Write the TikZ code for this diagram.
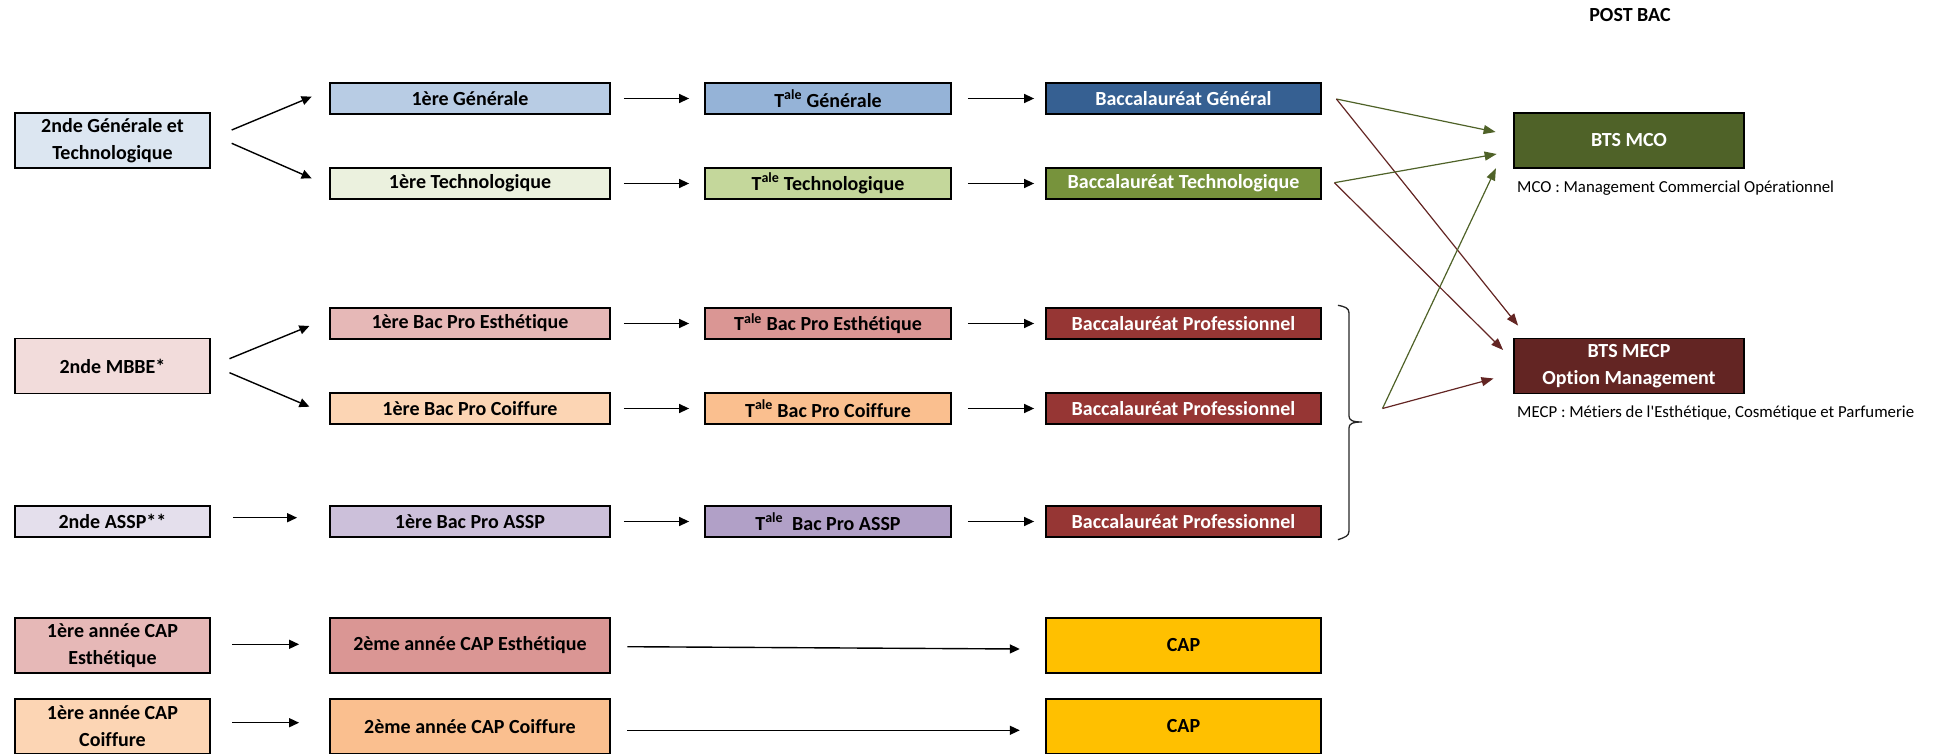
\documentclass[tikz,border=0pt]{standalone}
\usepackage{fontspec}
\setmainfont{Carlito}[Ligatures={CommonOff,TeXOff}]
\usetikzlibrary{arrows.meta}
\definecolor{cGa}{HTML}{DCE6F1}
\definecolor{cGb}{HTML}{B8CCE4}
\definecolor{cGc}{HTML}{95B3D7}
\definecolor{cGd}{HTML}{366092}
\definecolor{cTa}{HTML}{EBF1DE}
\definecolor{cTc}{HTML}{C4D79B}
\definecolor{cTd}{HTML}{77933C}
\definecolor{cMCO}{HTML}{4F6228}
\definecolor{cMECP}{HTML}{632523}
\definecolor{cEa}{HTML}{F2DCDB}
\definecolor{cEb}{HTML}{E6B8B7}
\definecolor{cEc}{HTML}{DA9694}
\definecolor{cPro}{HTML}{963634}
\definecolor{cCb}{HTML}{FCD5B4}
\definecolor{cCc}{HTML}{FABF8F}
\definecolor{cAa}{HTML}{E4DFEC}
\definecolor{cAb}{HTML}{CCC0DA}
\definecolor{cAc}{HTML}{B1A0C7}
\definecolor{cCAP}{HTML}{FFC000}
\begin{document}
\begin{tikzpicture}[x=1pt,y=-1pt,
  box/.style={draw=black, line width=1.8pt, inner sep=0pt, align=center,
    font=\bfseries\fontsize{20}{27}\selectfont},
  wA/.style={minimum width=195pt},
  wB/.style={minimum width=280pt},
  wC/.style={minimum width=246pt},
  wD/.style={minimum width=275pt},
  wE/.style={minimum width=230pt},
  hS/.style={minimum height=31pt},
  hL/.style={minimum height=55pt},
  wtxt/.style={text=white},
  blk/.style={line width=1.4pt, -{Triangle[length=10pt,width=9pt]}},
  grn/.style={draw=cMCO, line width=1.2pt, -{Triangle[length=12pt,width=9pt]}},
  brn/.style={draw=cMECP, line width=1.2pt, -{Triangle[length=12pt,width=9pt]}},
  note/.style={anchor=west, inner sep=0pt, font=\fontsize{16.8}{20}\selectfont},
  bracestyle/.style={draw=black!85, line width=1.3pt}
]
\useasboundingbox (0,0) rectangle (1939,754);

% POST BAC title
\node[font=\bfseries\fontsize{20}{24}\selectfont] (post) at (1630,15) {POST BAC};

% General / technological track
\node[box,wA,hL,fill=cGa] (g2) at (112.5,140.5) {2nde Générale et\\Technologique};
\node[box,wB,hS,fill=cGb] (g1) at (470,98.5) {1ère Générale};
\node[box,wB,hS,fill=cTa] (t1) at (470,183.5) {1ère Technologique};
\node[box,wC,hS,fill=cGc] (g3) at (828,98.5) {T\textsuperscript{ale} Générale};
\node[box,wC,hS,fill=cTc] (t3) at (828,183.5) {T\textsuperscript{ale} Technologique};
\node[box,wD,hS,fill=cGd,wtxt] (g4) at (1183.5,98.5) {Baccalauréat Général};
\node[box,wD,hS,fill=cTd,wtxt] (t4) at (1183.5,183.5) {Baccalauréat Technologique};

% BTS
\node[box,wE,hL,fill=cMCO,wtxt] (mco) at (1629,140.5) {BTS MCO};
\node[box,wE,hL,fill=cMECP,wtxt] (mecp) at (1629,366) {BTS MECP\\Option Management};
\node[note] (mcot) at (1517,187.7) {MCO : Management Commercial Opérationnel};
\node[note] (mecpt) at (1517,412.7) {MECP : Métiers de l'Esthétique, Cosmétique et Parfumerie};

% Professional track
\node[box,wA,hL,fill=cEa] (m2) at (112.5,366) {2nde MBBE*};
\node[box,wB,hS,fill=cEb] (e1) at (470,323.5) {1ère Bac Pro Esthétique};
\node[box,wB,hS,fill=cCb] (c1) at (470,408.5) {1ère Bac Pro Coiffure};
\node[box,wC,hS,fill=cEc] (e3) at (828,323.5) {T\textsuperscript{ale} Bac Pro Esthétique};
\node[box,wC,hS,fill=cCc] (c3) at (828,408.5) {T\textsuperscript{ale} Bac Pro Coiffure};
\node[box,wD,hS,fill=cPro,wtxt] (e4) at (1183.5,323.5) {Baccalauréat Professionnel};
\node[box,wD,hS,fill=cPro,wtxt] (c4) at (1183.5,408.5) {Baccalauréat Professionnel};

\node[box,wA,hS,fill=cAa] (a2) at (112.5,521.5) {2nde ASSP**};
\node[box,wB,hS,fill=cAb] (a1) at (470,521.5) {1ère Bac Pro ASSP};
\node[box,wC,hS,fill=cAc] (a3) at (828,521.5) {T\textsuperscript{ale}\ \ Bac Pro ASSP};
\node[box,wD,hS,fill=cPro,wtxt] (a4) at (1183.5,521.5) {Baccalauréat Professionnel};

% CAP
\node[box,wA,hL,fill=cEb] (k1) at (112.5,645.5) {1ère année CAP\\Esthétique};
\node[box,wB,hL,fill=cEc] (k2) at (470,645.5) {2ème année CAP Esthétique};
\node[box,wD,hL,fill=cCAP] (k3) at (1183.5,645.5) {CAP};
\node[box,wA,hL,fill=cCb] (l1) at (112.5,726.3) {1ère année CAP\\Coiffure};
\node[box,wB,hL,fill=cCc] (l2) at (470,726.3) {2ème année CAP Coiffure};
\node[box,wD,hL,fill=cCAP] (l3) at (1183.5,726.3) {CAP};

% black arrows
\draw[blk] ([shift={(20.8,-10.5)}]g2.east) -- ([shift={(-17.5,-1.8)}]g1.west);
\draw[blk] ([shift={(20.8,2.8)}]g2.east) -- ([shift={(-17.5,-5.2)}]t1.west);
\draw[blk] ([xshift=13pt]g1.east) -- ([xshift=-15pt]g3.west);
\draw[blk] ([xshift=13pt]t1.east) -- ([xshift=-15pt]t3.west);
\draw[blk] ([xshift=16pt]g3.east) -- ([xshift=-11pt]g4.west);
\draw[blk] ([xshift=16pt]t3.east) -- ([xshift=-11pt]t4.west);

\draw[blk] ([shift={(18.6,-7.3)}]m2.east) -- ([shift={(-19.7,2.5)}]e1.west);
\draw[blk] ([shift={(18.6,6.7)}]m2.east) -- ([shift={(-19.7,-1.8)}]c1.west);
\draw[blk] ([xshift=13pt]e1.east) -- ([xshift=-15pt]e3.west);
\draw[blk] ([xshift=13pt]c1.east) -- ([xshift=-15pt]c3.west);
\draw[blk] ([xshift=16pt]e3.east) -- ([xshift=-11pt]e4.west);
\draw[blk] ([xshift=16pt]c3.east) -- ([xshift=-11pt]c4.west);

\draw[blk] ([shift={(22,-3.8)}]a2.east) -- ([shift={(-32,-3.8)}]a1.west);
\draw[blk] ([xshift=13pt]a1.east) -- ([xshift=-15pt]a3.west);
\draw[blk] ([xshift=16pt]a3.east) -- ([xshift=-11pt]a4.west);

\draw[blk] ([shift={(21.5,-1.2)}]k1.east) -- ([shift={(-30,-1.2)}]k2.west);
\draw[blk] ([shift={(16.5,1.2)}]k2.east) -- ([shift={(-25.3,3.5)}]k3.west);
\draw[blk] ([shift={(21.5,-3.6)}]l1.east) -- ([shift={(-30,-3.6)}]l2.west);
\draw[blk] ([shift={(16.5,4)}]l2.east) -- ([shift={(-25.3,4)}]l3.west);

% brace grouping the three Bac Pro
\coordinate (brtip) at (1362,422);
\draw[bracestyle] ([shift={(16,-1.8)}]e4.north east) .. controls (1345,306.7) and (1349,308) .. (1349,313)
  -- (1349,416) .. controls (1349,420) and (1352,422) .. (brtip)
  .. controls (1352,422) and (1349,424) .. (1349,428)
  -- (1349,531) .. controls (1349,536) and (1345,537.3) .. ([shift={(16,1.8)}]a4.south east);

% colored arrows to BTS
\coordinate (bgout) at ([shift={(14.5,0.5)}]g4.east);
\coordinate (btout) at ([shift={(12.5,-0.8)}]t4.east);
\coordinate (bpout) at ([shift={(20.5,-13.5)}]brtip);
\draw[grn] (bgout) -- ([shift={(-17.5,-8.5)}]mco.west);
\draw[brn] (bgout) -- ([shift={(5,-12)}]mecp.north west);
\draw[grn] (btout) -- ([shift={(-16.5,13.5)}]mco.west);
\draw[brn] (btout) -- ([shift={(-10,-16)}]mecp.west);
\draw[grn] (bpout) -- ([shift={(-17.2,27.8)}]mco.west);
\draw[brn] (bpout) -- ([shift={(-19.6,12.5)}]mecp.west);
\end{tikzpicture}
\end{document}
